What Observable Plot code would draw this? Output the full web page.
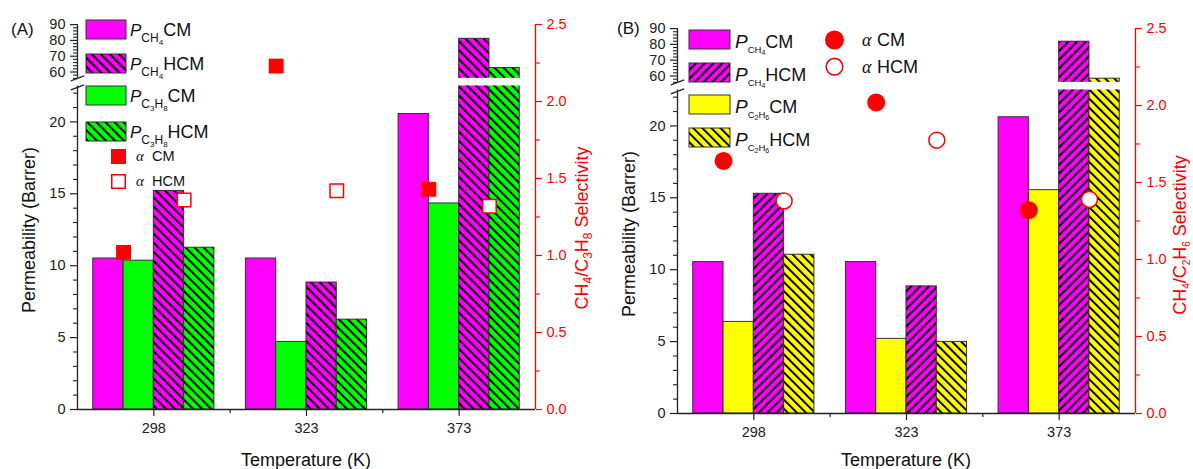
<!DOCTYPE html>
<html><head><meta charset="utf-8">
<script src="https://cdn.jsdelivr.net/npm/d3@7"></script>
<script src="https://cdn.jsdelivr.net/npm/@observablehq/plot@0.6"></script>
<style>
body{margin:0;background:#fff;font-family:"Liberation Sans",Arial,sans-serif;}
#wrap{display:flex;width:1193px;height:469px;overflow:hidden;}
#wrap svg{overflow:visible;display:block;}
</style></head><body><div id="wrap"></div>
<script>
// ---- data ----
const categories = ["298", "323", "373"];
// Panel A (CH4 / C3H8)
const ch4CM_A   = [10.5, 10.5, 20.55];
const c3h8CM_A  = [10.35, 4.7, 14.33];
const ch4HCM_A  = [15.2, 8.83, 81.0];
const c3h8HCM_A = [11.25, 6.25, 62.5];
const alphaCM_A  = [1.02, 2.23, 1.43];
const alphaHCM_A = [1.36, 1.42, 1.32];
// Panel B (CH4 / C2H6)
const ch4CM_B   = [10.53, 10.53, 20.6];
const c2h6CM_B  = [6.37, 5.19, 15.53];
const ch4HCM_B  = [15.28, 8.84, 81.7];
const c2h6HCM_B = [11.04, 4.98, 58.3];
const alphaCM_B  = [1.64, 2.02, 1.32];
const alphaHCM_B = [1.38, 1.775, 1.39];
// tick values
const leftMajor = [0, 5, 10, 15, 20, 60, 70, 80, 90];
const leftMinor = [1,2,3,4,6,7,8,9,11,12,13,14,16,17,18,19,21,22,56,58,62,64,66,68,72,74,76,78,82,84,86,88];
const rightMajor = [0, 0.5, 1.0, 1.5, 2.0, 2.5];
const rightMinor = [0.25, 0.75, 1.25, 1.75, 2.25];

// ---- broken left axis (virtual pixel units) ----
const LOW_MAX = 22.5, HIGH_MIN = 56, TOP = 90;
const P = v => v <= LOW_MAX ? v * 14.38 : (v < HIGH_MIN ? LOW_MAX * 14.38 : 337.5 + (v - 60) * 1.58);
const S = s => s * 154;
const G = 5.04; // group width in bar widths

const PINK = "#ff00ff", GREEN = "#00ff00", YELLOW = "#ffff00", RED = "#ff0000", AX = "#222";
const FONT = "'Liberation Sans', Arial, sans-serif";

function barsOf(values, j) {
  return values.map((v, i) => ({cat: categories[i], value: v, x1: i * G + G / 2 + j - 2, x2: i * G + G / 2 + j - 1}));
}
function dotsOf(values, off) {
  return values.map((v, i) => ({cat: categories[i], value: v, x: i * G + G / 2 + off}));
}
function rich(parent, x, y, parts, attrs = {}) {
  const t = parent.append("text").attr("x", x).attr("y", y).attr("text-anchor", "start");
  for (const [k, v] of Object.entries(attrs)) t.attr(k, v);
  let cur = 0;
  for (const p of parts) {
    const s = t.append("tspan").text(p.t).attr("font-size", p.size);
    const sh = p.shift || 0;
    if (sh - cur) s.attr("dy", sh - cur);
    cur = sh;
    if (p.italic) s.attr("font-style", "italic");
    if (p.family) s.attr("font-family", p.family);
    if (p.x != null) s.attr("x", p.x);
  }
  return t;
}

function panel(o) {
  const series = o.series.map((s, j) => ({...s, rows: barsOf(s.values, j)}));
  const broken = series.flatMap(s => s.rows.filter(d => d.value > HIGH_MIN));
  const centers = categories.map((c, i) => i * G + G / 2);
  const catLabel = new Map(centers.map((c, i) => [c, categories[i]]));
  const lLab = new Map(leftMajor.map(v => [P(v), String(v)]));
  const rLab = new Map(rightMajor.map(v => [S(v), v.toFixed(1)]));
  const breaks = [P(HIGH_MIN), P(LOW_MAX) - 1.5];

  const node = Plot.plot({
    width: o.width, height: 469,
    marginLeft: 77, marginRight: o.marginRight, marginTop: o.marginTop, marginBottom: 469 - o.marginTop - 385,
    x: {type: "linear", domain: [0, 3 * G]},
    y: {type: "linear", domain: [0, 385]},
    style: {fontFamily: FONT, fontSize: "14.5px", color: AX, background: "white", overflow: "visible"},
    marks: [
      ...series.map(s => Plot.rect(s.rows, {x1: "x1", x2: "x2", y1: 0, y2: d => P(d.value), fill: s.fill, stroke: "#333", strokeWidth: 1})),
      Plot.rect(broken, {x1: "x1", x2: "x2", y1: P(LOW_MAX), y2: P(HIGH_MIN), fill: "white", insetLeft: -1.5, insetRight: -1.5}),
      // left broken axis
      Plot.ruleX([0], {y1: 0, y2: P(LOW_MAX), stroke: AX, strokeWidth: 1.3}),
      Plot.ruleX([0], {y1: P(HIGH_MIN), y2: P(TOP), stroke: AX, strokeWidth: 1.3}),
      Plot.link(breaks, {x1: -0.22, x2: 0.22, y1: d => d - 2.5, y2: d => d + 2.5, stroke: AX, strokeWidth: 1.3}),
      Plot.axisY(leftMajor.map(P), {anchor: "left", tickSize: 7, tickPadding: 5, strokeWidth: 1.2, tickFormat: d => lLab.get(d), label: null}),
      Plot.axisY(leftMinor.map(P), {anchor: "left", tickSize: 4, strokeWidth: 1.1, tickFormat: () => "", label: null}),
      // right selectivity axis
      Plot.ruleX([3 * G], {y1: 0, y2: S(2.5), stroke: RED, strokeWidth: 1.3}),
      Plot.axisY(rightMajor.map(S), {anchor: "right", tickSize: 6, tickPadding: 5, strokeWidth: 1.2, color: RED, tickFormat: d => rLab.get(d), label: null}),
      Plot.axisY(rightMinor.map(S), {anchor: "right", tickSize: 4, strokeWidth: 1.1, color: RED, tickFormat: () => "", label: null}),
      // bottom axis
      Plot.ruleY([0], {x1: 0, x2: 3 * G, stroke: AX, strokeWidth: 1.3}),
      Plot.axisX(centers, {anchor: "bottom", tickSize: 7, tickPadding: 6, strokeWidth: 1.2, tickFormat: d => catLabel.get(d), label: null}),
      Plot.axisX([G, 2 * G], {anchor: "bottom", tickSize: 4, strokeWidth: 1.2, tickFormat: () => "", label: null}),
      // selectivity markers
      Plot.dot(dotsOf(o.alphaCM, -1), {x: "x", y: d => S(d.value), symbol: o.symbol, r: o.rFill, fill: RED}),
      Plot.dot(dotsOf(o.alphaHCM, 1), {x: "x", y: d => S(d.value), symbol: o.symbol, r: o.rOpen, fill: "white", stroke: RED, strokeWidth: 1.5})
    ]
  });

  const svg = d3.select(node);
  svg.insert("defs", ":first-child").html(o.patterns);
  const g = svg.append("g").attr("font-family", FONT).attr("fill", "#111").attr("text-anchor", "start");
  // panel letter
  g.append("text").attr("x", o.letterX).attr("y", o.letterY).attr("font-size", 17).text(o.letter);
  // left title
  g.append("text").attr("transform", `translate(35,${o.leftTitleY}) rotate(-90)`).attr("text-anchor", "middle")
    .attr("font-size", 18).text("Permeability (Barrer)");
  // bottom title
  g.append("text").attr("x", 77 + 229).attr("y", 466).attr("text-anchor", "middle").attr("font-size", 18).text("Temperature (K)");
  // right title
  rich(g, 0, 0, o.rightTitle, {transform: `translate(${o.rightTitleX},${o.rightTitleY}) rotate(-90)`, "text-anchor": "middle", fill: RED});
  // legend
  const L = o.legend;
  L.rows.forEach((r, k) => {
    const top = L.tops[k];
    g.append("rect").attr("x", L.x).attr("y", top).attr("width", L.w).attr("height", L.h)
      .attr("fill", r.fill).attr("stroke", "#333").attr("stroke-width", 1);
    rich(g, L.x + L.w + L.gap, top + L.base, r.parts);
  });
  o.alphaLegend(g);
  return node;
}

const subA = (a, b) => [{t: "P", size: 17, italic: true}, {t: a, size: 12, shift: 6}, {t: b, size: 8, shift: 9}];
const subA2 = (a, n1, b, n2) => [{t: "P", size: 17, italic: true}, {t: a, size: 12, shift: 6}, {t: n1, size: 8, shift: 9}, {t: b, size: 12, shift: 6}, {t: n2, size: 8, shift: 9}];
const subB = (a, b) => [{t: "P", size: 19, italic: true}, {t: a, size: 9.5, shift: 5}, {t: b, size: 7, shift: 7}];
const subB2 = (a, n1, b, n2) => [{t: "P", size: 19, italic: true}, {t: a, size: 9.5, shift: 5}, {t: n1, size: 7, shift: 7}, {t: b, size: 9.5, shift: 5}, {t: n2, size: 7, shift: 7}];

const pat = (id, color, rot, w) => `<pattern id="${id}" patternUnits="userSpaceOnUse" width="${w}" height="${w}" patternTransform="rotate(${rot})"><rect width="${w}" height="${w}" fill="${color}"/><rect width="2" height="${w}" fill="#000"/></pattern>`;

const wrap = document.getElementById("wrap");

wrap.appendChild(panel({
  width: 600, marginRight: 65, marginTop: 24,
  series: [{values: ch4CM_A, fill: PINK}, {values: c3h8CM_A, fill: GREEN}, {values: ch4HCM_A, fill: "url(#A_pinkH)"}, {values: c3h8HCM_A, fill: "url(#A_greenH)"}],
  alphaCM: alphaCM_A, alphaHCM: alphaHCM_A, symbol: "square", rFill: 8.4, rOpen: 7.6,
  patterns: pat("A_pinkH", PINK, -45, 6.4) + pat("A_greenH", GREEN, -45, 6.4),
  letter: "(A)", letterX: 11, letterY: 35, leftTitleY: 230,
  rightTitleX: 588, rightTitleY: 228,
  rightTitle: [{t: "CH", size: 18}, {t: "4", size: 12, shift: 4}, {t: "/C", size: 18}, {t: "3", size: 12, shift: 4}, {t: "H", size: 18}, {t: "8", size: 12, shift: 4}, {t: " Selectivity", size: 18}],
  legend: {x: 86, w: 40, h: 19, gap: 4, base: 15.5, tops: [20, 54, 86, 122], rows: [
    {fill: PINK, parts: [...subA("CH", "4"), {t: "CM", size: 18}]},
    {fill: "url(#A_pinkH)", parts: [...subA("CH", "4"), {t: "HCM", size: 18}]},
    {fill: GREEN, parts: [...subA2("C", "3", "H", "8"), {t: "CM", size: 18}]},
    {fill: "url(#A_greenH)", parts: [...subA2("C", "3", "H", "8"), {t: "HCM", size: 18}]}
  ]},
  alphaLegend: g => {
    g.append("rect").attr("x", 111).attr("y", 149).attr("width", 15).attr("height", 15).attr("fill", RED);
    g.append("rect").attr("x", 111.75).attr("y", 174.75).attr("width", 13.5).attr("height", 13.5).attr("fill", "white").attr("stroke", RED).attr("stroke-width", 1.5);
    rich(g, 136, 161, [{t: "α", size: 15, italic: true, family: "'Liberation Serif', serif"}, {t: "CM", size: 14.5, x: 152}]);
    rich(g, 136, 186, [{t: "α", size: 15, italic: true, family: "'Liberation Serif', serif"}, {t: "HCM", size: 14.5, x: 152}]);
  }
}));

wrap.appendChild(panel({
  width: 593, marginRight: 58, marginTop: 28,
  series: [{values: ch4CM_B, fill: PINK}, {values: c2h6CM_B, fill: YELLOW}, {values: ch4HCM_B, fill: "url(#B_pinkH)"}, {values: c2h6HCM_B, fill: "url(#B_yellowH)"}],
  alphaCM: alphaCM_B, alphaHCM: alphaHCM_B, symbol: "circle", rFill: 9, rOpen: 8,
  patterns: pat("B_pinkH", PINK, 45, 6.2) + pat("B_yellowH", YELLOW, -45, 6.4),
  letter: "(B)", letterX: 17, letterY: 34, leftTitleY: 234,
  rightTitleX: 586, rightTitleY: 235,
  rightTitle: [{t: "CH", size: 18}, {t: "4", size: 10, shift: 4}, {t: "/C", size: 18}, {t: "2", size: 10, shift: 4}, {t: "H", size: 18}, {t: "6", size: 10, shift: 4}, {t: " Selectivity", size: 18}],
  legend: {x: 89, w: 41, h: 19, gap: 5, base: 18.3, tops: [30, 63, 95, 128], rows: [
    {fill: PINK, parts: [...subB("CH", "4"), {t: "CM", size: 18}]},
    {fill: "url(#B_pinkH)", parts: [...subB("CH", "4"), {t: "HCM", size: 18}]},
    {fill: YELLOW, parts: [...subB2("C", "2", "H", "6"), {t: "CM", size: 18}]},
    {fill: "url(#B_yellowH)", parts: [...subB2("C", "2", "H", "6"), {t: "HCM", size: 18}]}
  ]},
  alphaLegend: g => {
    g.append("circle").attr("cx", 234.5).attr("cy", 40).attr("r", 9.5).attr("fill", RED);
    g.append("circle").attr("cx", 234.5).attr("cy", 66.7).attr("r", 8.3).attr("fill", "white").attr("stroke", RED).attr("stroke-width", 1.6);
    rich(g, 262, 46, [{t: "α", size: 18, italic: true, family: "'Liberation Serif', serif"}, {t: "CM", size: 18, x: 277}]);
    rich(g, 262, 72.5, [{t: "α", size: 18, italic: true, family: "'Liberation Serif', serif"}, {t: "HCM", size: 18, x: 277}]);
  }
}));
</script></body></html>
